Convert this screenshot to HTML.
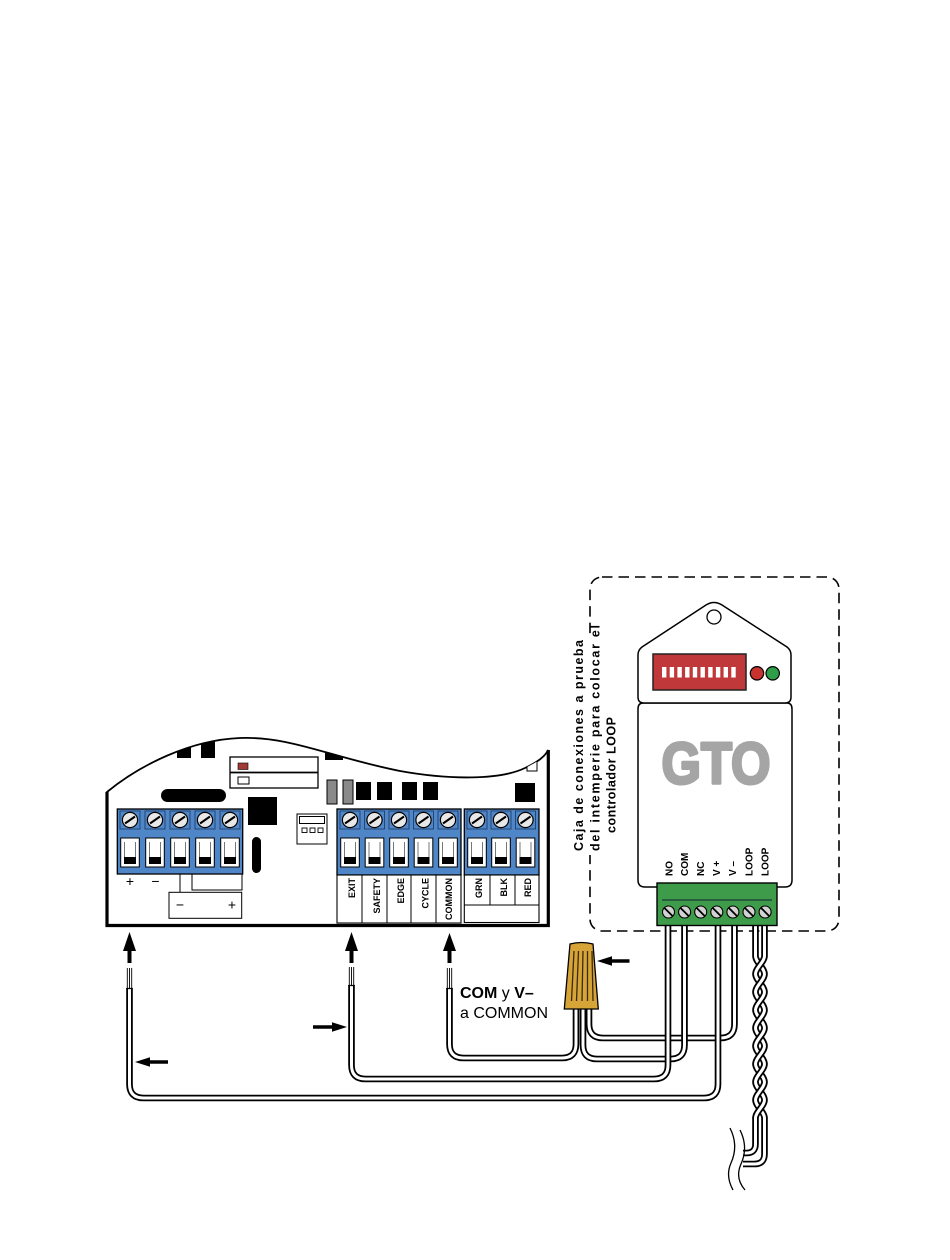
<!DOCTYPE html>
<html><head><meta charset="utf-8">
<style>
html,body{margin:0;padding:0;background:#fff;}
svg{display:block;}
text{font-family:"Liberation Sans",Arial,sans-serif;fill:#000;}
.wo{fill:none;stroke:#000;stroke-width:6.6;}
.wi{fill:none;stroke:#fff;stroke-width:3;}
</style></head>
<body>
<svg width="950" height="1260" viewBox="0 0 950 1260" xmlns="http://www.w3.org/2000/svg">
<defs>
<clipPath id="bc"><path d="M107,926 L107,792 C140,765 190,740 240,738 C290,736 330,757 400,771 C450,780 500,780 525,768 C540,761 546,755 548,750 L548,926 Z"/></clipPath>
<g id="bt">
 <rect x="-10" y="811" width="20" height="18" fill="#4f86c8" stroke="#1b365d" stroke-width="0.8"/>
 <circle cx="0" cy="820" r="7.6" fill="#e8e8e8" stroke="#000" stroke-width="1.2"/>
 <line x1="-5" y1="823.5" x2="5" y2="816.5" stroke="#000" stroke-width="2"/>
 <rect x="-9.3" y="838" width="18.6" height="29" fill="#fff" stroke="#000" stroke-width="1"/>
 <path d="M-5.5,842V858M5.5,842V858" stroke="#777" stroke-width="1" fill="none"/>
 <rect x="-6" y="857" width="12" height="7" fill="#000"/>
</g>
<g id="gs">
 <circle cx="0" cy="0" r="6" fill="#d2d2d2" stroke="#000" stroke-width="1.1"/>
 <line x1="-4" y1="-4" x2="4" y2="4" stroke="#000" stroke-width="1.8"/>
</g>
</defs>

<!-- ===== Control board ===== -->
<path d="M107,926 L107,792 C140,765 190,740 240,738 C290,736 330,757 400,771 C450,780 500,780 525,768 C540,761 546,755 548,750 L548,926 Z" fill="#fff" stroke="#000" stroke-width="1.8"/>
<g clip-path="url(#bc)">
 <rect x="177" y="735" width="14" height="23" fill="#000"/>
 <rect x="201" y="735" width="14" height="23" fill="#000"/>
 <rect x="325" y="745" width="18" height="15" fill="#000"/>
 <rect x="527" y="755" width="10" height="16" fill="#fff" stroke="#000" stroke-width="1"/>
</g>
<path d="M107,792 V925.5 H548.3 V750" fill="none" stroke="#000" stroke-width="3.2"/>

<!-- LED box -->
<rect x="230" y="757" width="88" height="31" fill="#fff" stroke="#000" stroke-width="1.3"/>
<line x1="230" y1="772.5" x2="318" y2="772.5" stroke="#000" stroke-width="1.8"/>
<rect x="238" y="763" width="10" height="6.5" fill="#a23b36" stroke="#000" stroke-width="0.6"/>
<rect x="238" y="777" width="11" height="7" fill="#fff" stroke="#000" stroke-width="1"/>

<!-- misc components -->
<rect x="161" y="789" width="65" height="13" rx="6.5" fill="#000"/>
<rect x="248" y="797" width="29" height="28" fill="#000"/>
<rect x="252" y="837" width="9" height="36" rx="4.5" fill="#000"/>
<rect x="297" y="814" width="30" height="30" fill="#fff" stroke="#000" stroke-width="1"/>
<rect x="299.5" y="816.5" width="25" height="7" fill="#fff" stroke="#000" stroke-width="1"/>
<rect x="302" y="828" width="5" height="4.5" fill="#fff" stroke="#000" stroke-width="0.9"/>
<rect x="310" y="828" width="5" height="4.5" fill="#fff" stroke="#000" stroke-width="0.9"/>
<rect x="318" y="828" width="5" height="4.5" fill="#fff" stroke="#000" stroke-width="0.9"/>

<rect x="327" y="780" width="10" height="24" fill="#8a8a8a" stroke="#000" stroke-width="1"/>
<rect x="343" y="780" width="10" height="24" fill="#8a8a8a" stroke="#000" stroke-width="1"/>
<rect x="356" y="782" width="15" height="18" fill="#000"/>
<rect x="377" y="782" width="15" height="18" fill="#000"/>
<rect x="402" y="782" width="15" height="18" fill="#000"/>
<rect x="423" y="782" width="15" height="18" fill="#000"/>
<rect x="515" y="783" width="20" height="19" fill="#000"/>

<!-- terminal blocks -->
<rect x="117.3" y="809" width="125.4" height="65" fill="#4f86c8" stroke="#000" stroke-width="1.3"/>
<use href="#bt" x="130"/><use href="#bt" x="155"/><use href="#bt" x="180"/><use href="#bt" x="205"/><use href="#bt" x="230"/>

<rect x="337" y="809" width="124" height="66" fill="#4f86c8" stroke="#000" stroke-width="1.3"/>
<use href="#bt" x="350"/><use href="#bt" x="374.5"/><use href="#bt" x="399"/><use href="#bt" x="423.5"/><use href="#bt" x="448"/>

<rect x="464.3" y="809" width="74.7" height="66" fill="#4f86c8" stroke="#000" stroke-width="1.3"/>
<use href="#bt" x="477"/><use href="#bt" x="501"/><use href="#bt" x="525.5"/>

<!-- power labels -->
<text x="130" y="886" font-size="14" text-anchor="middle">+</text>
<text x="155.5" y="886" font-size="14" text-anchor="middle">−</text>
<path d="M180,874 V892.3 M192,874 V890 H242 V874" fill="none" stroke="#000" stroke-width="1"/>
<rect x="169" y="892.3" width="72.7" height="26" fill="#fff" stroke="#000" stroke-width="1"/>
<text x="180" y="909.5" font-size="14" text-anchor="middle">−</text>
<text x="232" y="909.5" font-size="14" text-anchor="middle">+</text>

<!-- input label boxes -->
<rect x="337" y="875" width="124" height="48" fill="#fff" stroke="#000" stroke-width="1.1"/>
<path d="M362,875V923M387,875V923M411,875V923M436,875V923" stroke="#000" stroke-width="1"/>
<rect x="464.3" y="875" width="74.7" height="47.5" fill="#fff" stroke="#000" stroke-width="1.1"/>
<path d="M464.3,905H539M490,875V905M515,875V905" stroke="#000" stroke-width="1"/>
<g font-size="9" font-weight="bold" text-anchor="end">
 <text transform="translate(355.2,878) rotate(-90)">EXIT</text>
 <text transform="translate(380.2,878) rotate(-90)">SAFETY</text>
 <text transform="translate(404.2,878) rotate(-90)">EDGE</text>
 <text transform="translate(428.7,878) rotate(-90)">CYCLE</text>
 <text transform="translate(452.2,878) rotate(-90)">COMMON</text>
 <text transform="translate(482.2,878) rotate(-90)">GRN</text>
 <text transform="translate(507.2,878) rotate(-90)">BLK</text>
 <text transform="translate(531.2,878) rotate(-90)">RED</text>
</g>

<!-- ===== Dashed enclosure ===== -->
<rect x="590" y="577" width="249" height="354" rx="12" fill="none" stroke="#000" stroke-width="1.6" stroke-dasharray="10.5 6"/>
<rect x="572" y="637" width="48" height="218" fill="#fff"/>
<g font-size="12.5" font-weight="bold">
 <text transform="translate(583,851) rotate(-90)" textLength="211" lengthAdjust="spacing">Caja de conexiones a prueba</text>
 <text transform="translate(599.5,851) rotate(-90)" textLength="226" lengthAdjust="spacing">del intemperie para colocar el</text>
 <text transform="translate(615.5,833) rotate(-90)" textLength="116" lengthAdjust="spacing">controlador LOOP</text>
</g>

<!-- ===== GTO loop detector ===== -->
<path d="M643,703 Q638,703 638,709 L638,880 Q638,887 645,887 L785,887 Q792,887 792,880 L792,709 Q792,703 787,703 Z" fill="#fff" stroke="#000" stroke-width="1.5"/>
<path d="M706,605 L642,647 Q638,650 638,655 L638,697 Q638,703 644,703 L785,703 Q791,703 791,697 L791,655 Q791,650 787,647 L722,605 Q714,600 706,605 Z" fill="#fff" stroke="#000" stroke-width="1.5"/>
<circle cx="714" cy="617" r="7" fill="#fff" stroke="#000" stroke-width="1.3"/>
<rect x="653" y="654" width="93" height="36" fill="#c0383a" stroke="#222" stroke-width="1.5"/>
<g fill="#fff">
 <rect x="662" y="667" width="4.4" height="10.5"/><rect x="669.7" y="667" width="4.4" height="10.5"/>
 <rect x="677.4" y="667" width="4.4" height="10.5"/><rect x="685.1" y="667" width="4.4" height="10.5"/>
 <rect x="692.8" y="667" width="4.4" height="10.5"/><rect x="700.5" y="667" width="4.4" height="10.5"/>
 <rect x="708.2" y="667" width="4.4" height="10.5"/><rect x="715.9" y="667" width="4.4" height="10.5"/>
 <rect x="723.6" y="667" width="4.4" height="10.5"/><rect x="731.3" y="667" width="4.4" height="10.5"/>
</g>
<circle cx="757" cy="673.3" r="6.7" fill="#c8322f" stroke="#000" stroke-width="1.2"/>
<circle cx="772.7" cy="673.3" r="6.7" fill="#2e9e48" stroke="#000" stroke-width="1.2"/>
<text x="661.5" y="783.5" font-size="58" font-weight="bold" fill="#a5a5a5" stroke="#a5a5a5" stroke-width="3" stroke-linejoin="round" textLength="109" lengthAdjust="spacingAndGlyphs" style="fill:#a5a5a5">GTO</text>
<g font-size="10" font-weight="bold">
 <text transform="translate(672.6,876) rotate(-90)">NO</text>
 <text transform="translate(688,876) rotate(-90)">COM</text>
 <text transform="translate(704,876) rotate(-90)">NC</text>
 <text transform="translate(720,876) rotate(-90)">V +</text>
 <text transform="translate(736,876) rotate(-90)">V –</text>
 <text transform="translate(752.6,876) rotate(-90)">LOOP</text>
 <text transform="translate(768.6,876) rotate(-90)">LOOP</text>
</g>

<!-- ===== Wires ===== -->
<!-- V- to nut -->
<path class="wo" d="M734.5,924 V1024 Q734.5,1038 720.5,1038 H603 Q589,1038 589,1024 V1000"/>
<path class="wi" d="M734.5,924 V1024 Q734.5,1038 720.5,1038 H603 Q589,1038 589,1024 V1000"/>
<!-- COM to nut -->
<path class="wo" d="M684.5,924 V1045 Q684.5,1059 670.5,1059 H597 Q583,1059 583,1045 V1000"/>
<path class="wi" d="M684.5,924 V1045 Q684.5,1059 670.5,1059 H597 Q583,1059 583,1045 V1000"/>
<!-- nut to COMMON -->
<path class="wo" d="M576,1000 V1044 Q576,1058 562,1058 H463.5 Q449.5,1058 449.5,1044 V988"/>
<path class="wi" d="M576,1000 V1044 Q576,1058 562,1058 H463.5 Q449.5,1058 449.5,1044 V988"/>
<!-- NO to EXIT -->
<path class="wo" d="M351.5,985 V1065 Q351.5,1079 365.5,1079 H654 Q668,1079 668,1065 V924"/>
<path class="wi" d="M351.5,985 V1065 Q351.5,1079 365.5,1079 H654 Q668,1079 668,1065 V924"/>
<!-- V+ to + -->
<path class="wo" d="M129.5,988 V1084 Q129.5,1098 143.5,1098 H704 Q718,1098 718,1084 V924"/>
<path class="wi" d="M129.5,988 V1084 Q129.5,1098 143.5,1098 H704 Q718,1098 718,1084 V924"/>

<!-- wire caps and stripped ends -->
<g stroke="#000" fill="none">
 <path d="M126.2,988.5H132.8M348.2,985.5H354.8M446.2,988.5H452.8" stroke-width="1.3"/>
 <path d="M127.3,968V988M129.5,968V988M131.7,968V988" stroke-width="0.9"/>
 <path d="M349.3,967V985M351.5,967V985M353.7,967V985" stroke-width="0.9"/>
 <path d="M447.3,968V988M449.5,968V988M451.7,968V988" stroke-width="0.9"/>
</g>

<!-- Loop twisted pair -->
<path class="wo" d="M755.5,924V956M764.5,924V956"/>
<path class="wi" d="M755.5,924V956.5M764.5,924V956.5"/>
<path class="wo" d="M755.5,956C755.5,962 764.5,968 764.5,974M755.5,974C755.5,980 764.5,986 764.5,992M755.5,992C755.5,998 764.5,1004 764.5,1010M755.5,1010C755.5,1016 764.5,1022 764.5,1028M755.5,1028C755.5,1034 764.5,1040 764.5,1046M755.5,1046C755.5,1052 764.5,1058 764.5,1064M755.5,1064C755.5,1070 764.5,1076 764.5,1082M755.5,1082C755.5,1088 764.5,1094 764.5,1100M755.5,1100C755.5,1106 764.5,1112 764.5,1118"/>
<path class="wi" d="M755.5,956C755.5,962 764.5,968 764.5,974M755.5,974C755.5,980 764.5,986 764.5,992M755.5,992C755.5,998 764.5,1004 764.5,1010M755.5,1010C755.5,1016 764.5,1022 764.5,1028M755.5,1028C755.5,1034 764.5,1040 764.5,1046M755.5,1046C755.5,1052 764.5,1058 764.5,1064M755.5,1064C755.5,1070 764.5,1076 764.5,1082M755.5,1082C755.5,1088 764.5,1094 764.5,1100M755.5,1100C755.5,1106 764.5,1112 764.5,1118"/>
<path class="wo" d="M764.5,956C764.5,962 755.5,968 755.5,974M764.5,974C764.5,980 755.5,986 755.5,992M764.5,992C764.5,998 755.5,1004 755.5,1010M764.5,1010C764.5,1016 755.5,1022 755.5,1028M764.5,1028C764.5,1034 755.5,1040 755.5,1046M764.5,1046C764.5,1052 755.5,1058 755.5,1064M764.5,1064C764.5,1070 755.5,1076 755.5,1082M764.5,1082C764.5,1088 755.5,1094 755.5,1100M764.5,1100C764.5,1106 755.5,1112 755.5,1118"/>
<path class="wi" d="M764.5,956C764.5,962 755.5,968 755.5,974M764.5,974C764.5,980 755.5,986 755.5,992M764.5,992C764.5,998 755.5,1004 755.5,1010M764.5,1010C764.5,1016 755.5,1022 755.5,1028M764.5,1028C764.5,1034 755.5,1040 755.5,1046M764.5,1046C764.5,1052 755.5,1058 755.5,1064M764.5,1064C764.5,1070 755.5,1076 755.5,1082M764.5,1082C764.5,1088 755.5,1094 755.5,1100M764.5,1100C764.5,1106 755.5,1112 755.5,1118"/>
<path class="wo" d="M764.5,1117.5V1154Q764.5,1164 754.5,1164H743"/>
<path class="wi" d="M764.5,1117V1154Q764.5,1164 754.5,1164H743"/>
<path class="wo" d="M755.5,1117.5V1144Q755.5,1153 746.5,1153H743"/>
<path class="wi" d="M755.5,1117V1144Q755.5,1153 746.5,1153H743"/>
<path d="M730,1128 C736,1140 736,1152 731,1163 C727,1172 728,1181 733,1190 M740,1130 C746,1142 746,1153 741,1164 C737,1173 738,1182 745,1190" fill="none" stroke="#000" stroke-width="1.3"/>

<!-- green terminal block -->
<rect x="657" y="883" width="120" height="42.5" fill="#3d9b49" stroke="#000" stroke-width="1.4"/>
<line x1="662" y1="900" x2="772" y2="900" stroke="#123" stroke-width="1"/>
<use href="#gs" x="668.5" y="912"/><use href="#gs" x="684.6" y="912"/><use href="#gs" x="700.7" y="912"/>
<use href="#gs" x="716.8" y="912"/><use href="#gs" x="732.9" y="912"/><use href="#gs" x="749" y="912"/>
<use href="#gs" x="765.1" y="912"/>

<!-- wire nut -->
<path d="M570,944 Q581.5,941 593,944 L598.3,1009 L564.3,1009 Z" fill="#d6a437" stroke="#000" stroke-width="1.3"/>
<path d="M574,951 L571.5,1001 M578.5,951 L576.5,1001 M583,951 L582,1001 M587.5,951 L587.5,1001 M592,951 L593,1001" stroke="#3a2a10" stroke-width="1.3" fill="none"/>

<!-- arrows -->
<g fill="#000">
 <path d="M129.5,932 L136,951 H131.5 V963 H127.5 V951 H123 Z"/>
 <path d="M351.5,932 L358,951 H353.5 V963 H349.5 V951 H345 Z"/>
 <path d="M449.5,933 L456,951 H451.5 V963 H447.5 V951 H443 Z"/>
 <path d="M135,1062 L150,1057.3 V1060.3 H168 V1063.7 H150 V1066.7 Z"/>
 <path d="M347,1027 L332,1022.3 V1025.3 H313 V1028.7 H332 V1031.7 Z"/>
 <path d="M597,961 L612,956.3 V959.3 H629.5 V962.7 H612 V965.7 Z"/>
</g>

<!-- annotation -->
<text x="460" y="998" font-size="16"><tspan font-weight="bold">COM</tspan> y <tspan font-weight="bold">V–</tspan></text>
<text x="460" y="1018" font-size="16">a COMMON</text>
</svg>
</body></html>
